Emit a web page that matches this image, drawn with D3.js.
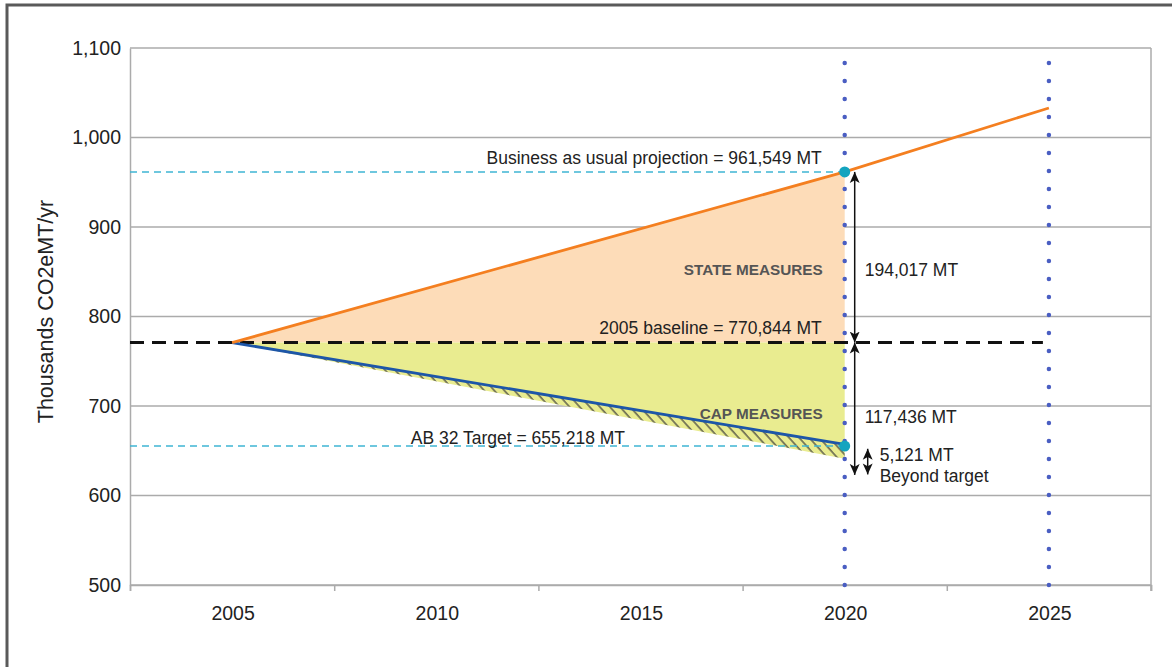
<!DOCTYPE html>
<html>
<head>
<meta charset="utf-8">
<script src="https://cdn.jsdelivr.net/npm/d3@7"></script>
<style>
  body { margin: 0; background: #fff; }
  text { font-family: "Liberation Sans", Arial, sans-serif; }
</style>
</head>
<body>
<div id="chart"></div>
<script>
// values (thousands of MT CO2e)
var bauYears = [2005, 2020, 2025];
var bauValues = [770.844, 961.549, 1033];
var capYears = [2005, 2020];
var capValues = [770.844, 657];
var capLowValues = [770.844, 641];
var baseline = 770.844;
var target = 655.218;
var yTicks = [500, 600, 700, 800, 900, 1000, 1100];
var xLabels = [2005, 2010, 2015, 2020, 2025];
var xBounds = [2002.5, 2007.5, 2012.5, 2017.5, 2022.5, 2027.5];
var markerYears = [2020, 2025];

var width = 1172, height = 667;
var margin = {left: 130, right: 21, top: 48, bottom: 82};

var svg = d3.select('#chart').append('svg')
  .attr('width', width)
  .attr('height', height);

var x = d3.scaleLinear().domain([2002.5, 2027.5]).range([margin.left, width - margin.right]);
var y = d3.scaleLinear().domain([500, 1100]).range([height - margin.bottom, margin.top]);

// outer frame
svg.append('rect')
  .attr('x', 7).attr('y', 5)
  .attr('width', 1300).attr('height', 800)
  .attr('fill', 'none')
  .attr('stroke', '#5a5a5a')
  .attr('stroke-width', 3);

var defs = svg.append('defs');
defs.append('pattern')
  .attr('id', 'hatch')
  .attr('patternUnits', 'userSpaceOnUse')
  .attr('width', 7.5).attr('height', 10)
  .attr('patternTransform', 'rotate(-42)')
  .append('line')
  .attr('x1', 1).attr('y1', 0).attr('x2', 1).attr('y2', 10)
  .attr('stroke', '#3a3a3a').attr('stroke-width', 1.2);

// grid
svg.append('g').selectAll('line')
  .data(yTicks)
  .enter().append('line')
  .attr('x1', x.range()[0]).attr('x2', x.range()[1])
  .attr('y1', d => y(d)).attr('y2', d => y(d))
  .attr('stroke', '#ababab').attr('stroke-width', 1.5);

svg.append('line')
  .attr('x1', x.range()[1]).attr('x2', x.range()[1])
  .attr('y1', y(1100)).attr('y2', y(500) + 6)
  .attr('stroke', '#ababab').attr('stroke-width', 1.5);

// y axis
var yAxis = svg.append('g')
  .attr('transform', `translate(${margin.left},0)`)
  .call(d3.axisLeft(y).tickValues(yTicks).tickSize(0).tickPadding(9).tickFormat(d3.format(',')));
yAxis.select('.domain').attr('stroke', '#ababab').attr('stroke-width', 1.5);
yAxis.selectAll('text').attr('font-size', 19.5).attr('fill', '#222').attr('font-family', '"Liberation Sans", Arial, sans-serif');

// x axis: ticks at boundaries, labels centred on years
var xAxis = svg.append('g')
  .attr('transform', `translate(0,${y(500)})`)
  .call(d3.axisBottom(x).tickValues(xBounds).tickSize(6).tickFormat(''));
xAxis.select('.domain').attr('stroke', '#ababab').attr('stroke-width', 1.5);
xAxis.selectAll('.tick line').attr('stroke', '#ababab').attr('stroke-width', 1.5);

svg.append('g').selectAll('text')
  .data(xLabels)
  .enter().append('text')
  .attr('x', d => x(d) + 1)
  .attr('y', y(500) + 35)
  .attr('text-anchor', 'middle')
  .attr('font-size', 19.5)
  .attr('fill', '#222')
  .text(d => d);

svg.append('text')
  .attr('transform', `translate(53,${(y(500) + y(1100)) / 2 - 5}) rotate(-90)`)
  .attr('text-anchor', 'middle')
  .attr('font-size', 21.5)
  .attr('fill', '#222')
  .text('Thousands CO2eMT/yr');

// areas
var bau = bauYears.map((d, i) => [d, bauValues[i]]);
var cap = capYears.map((d, i) => [d, capValues[i]]);
var capLow = capYears.map((d, i) => [d, capLowValues[i]]);

var area = d3.area().x(d => x(d[0])).y0(y(baseline)).y1(d => y(d[1]));

svg.append('path')
  .datum(bau.slice(0, 2))
  .attr('d', area)
  .attr('fill', '#fddcb8');

svg.append('path')
  .datum(capLow)
  .attr('d', area)
  .attr('fill', '#e9ec90');

var band = d3.area()
  .x(d => x(d[0]))
  .y0((d, i) => y(capLow[i][1]))
  .y1(d => y(d[1]));
svg.append('path')
  .datum(cap)
  .attr('d', band)
  .attr('fill', 'url(#hatch)');

// reference dashed lines
svg.append('line')
  .attr('x1', x.range()[0]).attr('x2', x(2025) - 6)
  .attr('y1', y(baseline)).attr('y2', y(baseline))
  .attr('stroke', '#111').attr('stroke-width', 3)
  .attr('stroke-dasharray', '14,8');

[bauValues[1], target].forEach(function(v) {
  svg.append('line')
    .attr('x1', x.range()[0]).attr('x2', x(2020))
    .attr('y1', y(v)).attr('y2', y(v))
    .attr('stroke', '#3fb5d4').attr('stroke-width', 1.5)
    .attr('stroke-dasharray', '7,5');
});

// dotted year markers
svg.append('g').selectAll('line')
  .data(markerYears)
  .enter().append('line')
  .attr('x1', d => x(d)).attr('x2', d => x(d))
  .attr('y1', y(500)).attr('y2', y(1100) + 10)
  .attr('stroke', '#4a5ec2').attr('stroke-width', 4.5)
  .attr('stroke-linecap', 'round')
  .attr('stroke-dasharray', '0,18');

var line = d3.line().x(d => x(d[0])).y(d => y(d[1]));

svg.append('path')
  .datum(cap)
  .attr('d', line)
  .attr('fill', 'none')
  .attr('stroke', '#1d56a8')
  .attr('stroke-width', 2.8);

svg.append('path')
  .datum(bau)
  .attr('d', line)
  .attr('fill', 'none')
  .attr('stroke', '#f47f20')
  .attr('stroke-width', 2.8);

svg.append('g').selectAll('circle')
  .data([bauValues[1], target])
  .enter().append('circle')
  .attr('cx', x(2020))
  .attr('cy', d => y(d))
  .attr('r', 5.5)
  .attr('fill', '#14a4bf');

// arrows
defs.append('marker')
  .attr('id', 'arrow')
  .attr('viewBox', '0 0 10 10')
  .attr('refX', 10).attr('refY', 5)
  .attr('markerWidth', 11).attr('markerHeight', 11)
  .attr('markerUnits', 'userSpaceOnUse')
  .attr('orient', 'auto-start-reverse')
  .append('path')
  .attr('d', 'M0,0.5 L10,5 L0,9.5 L2.5,5 Z')
  .attr('fill', '#111');

function arrow(ax, v0, v1) {
  svg.append('line')
    .attr('x1', ax).attr('x2', ax)
    .attr('y1', y(v0)).attr('y2', y(v1))
    .attr('stroke', '#111').attr('stroke-width', 1.5)
    .attr('marker-start', 'url(#arrow)')
    .attr('marker-end', 'url(#arrow)');
}
arrow(x(2020) + 10, bauValues[1], baseline);
arrow(x(2020) + 10, baseline, 623);
arrow(x(2020) + 23, target - 3, 623.5);

// labels
function label(tx, v, str, anchor, opts) {
  opts = opts || {};
  svg.append('text')
    .attr('x', tx)
    .attr('y', y(v))
    .attr('text-anchor', anchor)
    .attr('font-size', opts.size || 17.5)
    .attr('font-weight', opts.bold ? 'bold' : 'normal')
    .attr('fill', opts.color || '#222')
    .text(str);
}
label(x(2020) - 23, 970.4, 'Business as usual projection = 961,549 MT', 'end');
label(x(2020) - 23, 780.4, '2005 baseline = 770,844 MT', 'end');
label(625, 657.5, 'AB 32 Target = 655,218 MT', 'end');
label(x(2020) - 22, 846, 'STATE MEASURES', 'end', {bold: true, size: 15.3, color: '#555'});
label(x(2020) - 22, 685, 'CAP MEASURES', 'end', {bold: true, size: 15.3, color: '#555'});
label(x(2020) + 20, 845, '194,017 MT', 'start');
label(x(2020) + 20, 681, '117,436 MT', 'start');
label(x(2020) + 35, 638.5, '5,121 MT', 'start');
label(x(2020) + 35, 615, 'Beyond target', 'start');
</script>
</body>
</html>
